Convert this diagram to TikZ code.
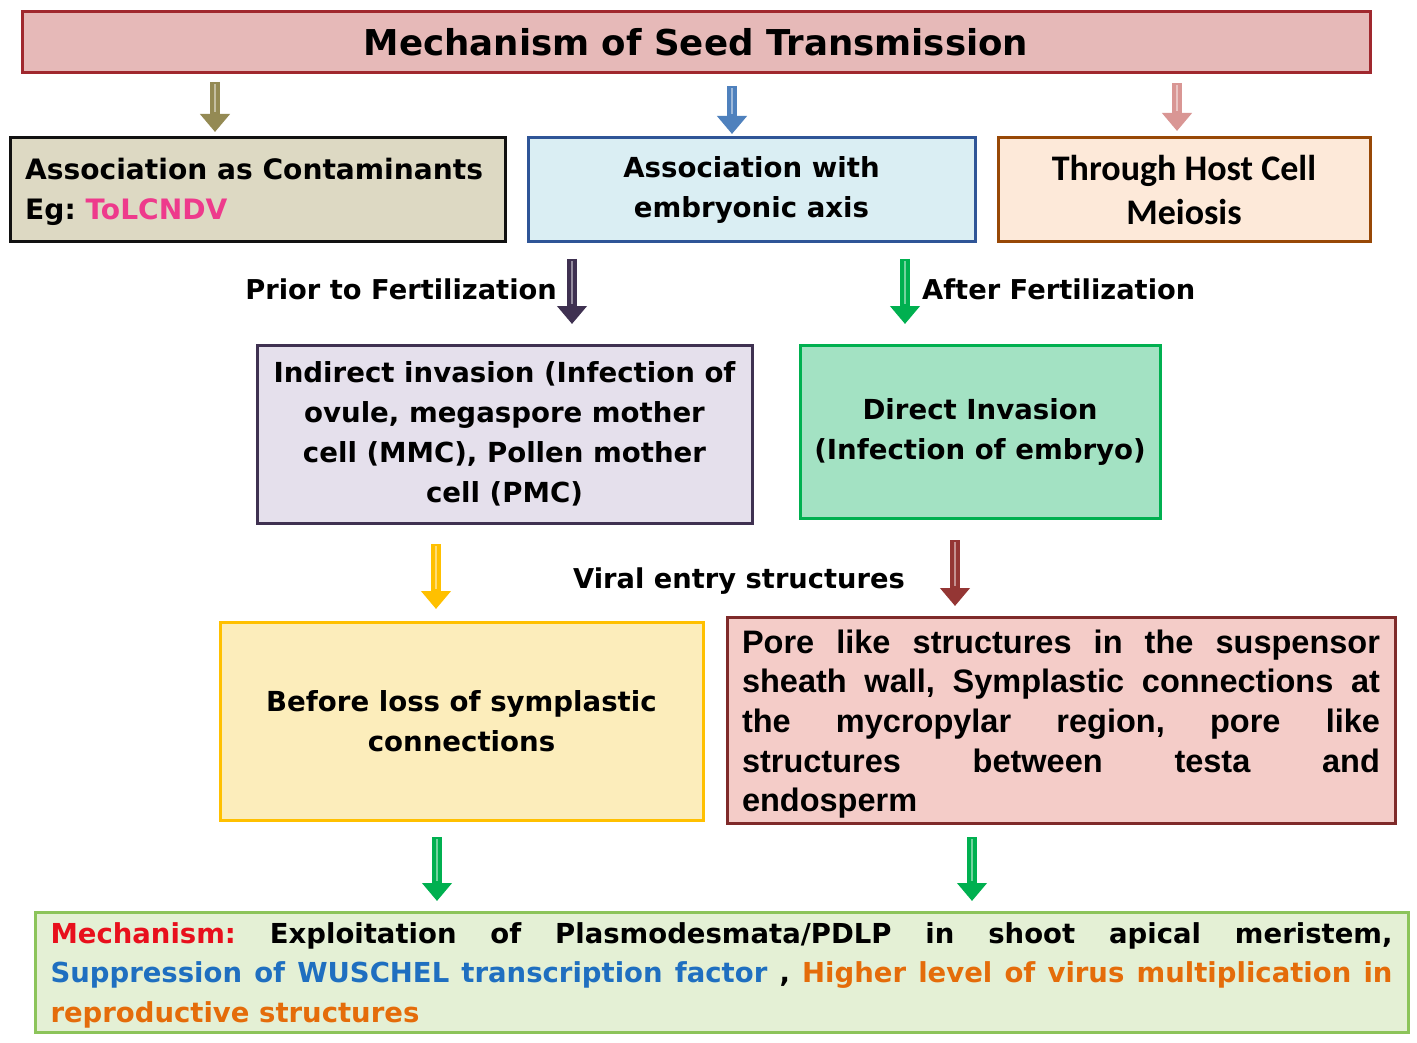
\documentclass[tikz,border=0pt]{standalone}
\usepackage{fontspec}
\setmainfont{DejaVu Sans}
\newfontfamily\calfont{Carlito}
\newfontfamily\arifont{Liberation Sans}
\usetikzlibrary{arrows.meta}
\definecolor{titlefill}{HTML}{E6B9B8}
\definecolor{titledraw}{HTML}{A0282E}
\definecolor{afill}{HTML}{DDD9C3}
\definecolor{adraw}{HTML}{111111}
\definecolor{bfill}{HTML}{DAEEF3}
\definecolor{bdraw}{HTML}{2F5597}
\definecolor{cfill}{HTML}{FDE9D9}
\definecolor{cdraw}{HTML}{984806}
\definecolor{dfill}{HTML}{E5E0EC}
\definecolor{ddraw}{HTML}{3F3151}
\definecolor{efill}{HTML}{A3E2C3}
\definecolor{edraw}{HTML}{00B050}
\definecolor{ffill}{HTML}{FCEDBB}
\definecolor{fdraw}{HTML}{FFC000}
\definecolor{gfill}{HTML}{F4CCC8}
\definecolor{gdraw}{HTML}{7F2A2A}
\definecolor{hfill}{HTML}{E4F0D5}
\definecolor{hdraw}{HTML}{8CC45A}
\definecolor{arrolive}{HTML}{948A54}
\definecolor{arrblue}{HTML}{4F81BD}
\definecolor{arrpink}{HTML}{D99694}
\definecolor{arrpurple}{HTML}{3F3151}
\definecolor{arrgreen}{HTML}{00B050}
\definecolor{arryellow}{HTML}{FFC000}
\definecolor{arrred}{HTML}{943634}
\definecolor{txtmagenta}{HTML}{EE3A8C}
\definecolor{txtred}{HTML}{E8101C}
\definecolor{txtblue}{HTML}{1F6FC0}
\definecolor{txtorange}{HTML}{E46C0A}
\newcommand\myarrow[3]{%
  \draw[blockarrow=#1] (#2) -- (#3);
  \draw[arrowshine] (#2) -- (#3);
}
\frenchspacing
\begin{document}
\begin{tikzpicture}[x=1pt,y=-1pt,
  box/.style={draw, line width=3pt, rectangle, inner sep=0pt, font=\bfseries\fontsize{27.6}{40}\selectfont, align=center},
  lbl/.style={inner sep=0pt, font=\bfseries\fontsize{27.3}{40}\selectfont},
  blockarrow/.style={line width=10pt, draw=#1, -{Triangle[width=29pt,length=18pt]}},
  arrowshine/.style={line width=2.5pt, draw=white, draw opacity=0.45, shorten >=20pt, shorten <=2pt}]
\useasboundingbox (0,0) rectangle (1417,1043);
\fill[white] (0,0) rectangle (1417,1043);

\node[box, fill=titlefill, draw=titledraw, minimum width=1348pt, minimum height=61pt, font=\bfseries\fontsize{35.6}{40}\selectfont] (title) at (696,42.5) {Mechanism of Seed Transmission};

\node[box, fill=afill, draw=adraw, minimum width=495pt, minimum height=104pt] (assoc) at (257.5,190) {};
\node[lbl, anchor=west, align=left, font=\bfseries\fontsize{28.1}{40}\selectfont] (assoctxt) at (25,192) {Association as Contaminants\\Eg: \textcolor{txtmagenta}{ToLCNDV}};
\node[box, fill=bfill, draw=bdraw, minimum width=447pt, minimum height=104pt] (embryo) at (751.5,190) {Association with\\embryonic axis};
\node[box, fill=cfill, draw=cdraw, minimum width=372pt, minimum height=104pt, font=\calfont\bfseries\fontsize{36}{44}\selectfont] (meiosis) at (1184,190) {Through Host Cell\\Meiosis};

\node[lbl, anchor=east] (prior) at (557,289) {Prior to Fertilization};
\node[lbl, anchor=west] (after) at (922,289) {After Fertilization};

\node[box, fill=dfill, draw=ddraw, minimum width=495pt, minimum height=178pt] (indirect) at (504.5,434) {Indirect invasion (Infection of\\ovule, megaspore mother\\cell (MMC), Pollen mother\\cell (PMC)};
\node[box, fill=efill, draw=edraw, minimum width=360pt, minimum height=173pt] (direct) at (980,431.5) {Direct Invasion\\(Infection of embryo)};

\node[lbl] (viral) at (739,581) {Viral entry structures};

\node[box, fill=ffill, draw=fdraw, minimum width=483pt, minimum height=198pt] (before) at (461.5,721) {Before loss of symplastic\\connections};
\node[box, fill=gfill, draw=gdraw, minimum width=668pt, minimum height=206pt] (pore) at (1061,720) {};
\node[inner sep=0pt, align=left, font=\arifont\bfseries\fontsize{32.5}{39.6}\selectfont] (poretxt) at (1061,724) {%
\makebox[638pt][s]{Pore like structures in the suspensor}\\
\makebox[638pt][s]{sheath wall, Symplastic connections at}\\
\makebox[638pt][s]{the mycropylar region, pore like}\\
\makebox[638pt][s]{structures between testa and}\\
\makebox[638pt][l]{endosperm}};

\node[box, fill=hfill, draw=hdraw, minimum width=1373pt, minimum height=120pt] (mech) at (721.5,972) {};
\node[inner sep=0pt, align=left, font=\bfseries\fontsize{27.5}{39.5}\selectfont] (mechtxt) at (721.5,975) {%
\makebox[1342pt][s]{\textcolor{txtred}{Mechanism:} Exploitation of Plasmodesmata/PDLP in shoot apical meristem,}\\
\makebox[1342pt][s]{\textcolor{txtblue}{Suppression of WUSCHEL transcription factor} , \textcolor{txtorange}{Higher level of virus multiplication in}}\\
\makebox[1342pt][l]{\textcolor{txtorange}{reproductive structures}}};

\coordinate (a1s) at (215,82);  \coordinate (a1e) at (215,132);
\coordinate (a2s) at (732,86);  \coordinate (a2e) at (732,134);
\coordinate (a3s) at (1177,83); \coordinate (a3e) at (1177,131);
\coordinate (a4s) at (572,259); \coordinate (a4e) at (572,324);
\coordinate (a5s) at (905,259); \coordinate (a5e) at (905,324);
\coordinate (a6s) at (436,544); \coordinate (a6e) at (436,609);
\coordinate (a7s) at (955,540); \coordinate (a7e) at (955,606);
\coordinate (a8s) at (437,837); \coordinate (a8e) at (437,901);
\coordinate (a9s) at (972,837); \coordinate (a9e) at (972,901);

\myarrow{arrolive}{a1s}{a1e}
\myarrow{arrblue}{a2s}{a2e}
\myarrow{arrpink}{a3s}{a3e}
\myarrow{arrpurple}{a4s}{a4e}
\myarrow{arrgreen}{a5s}{a5e}
\myarrow{arryellow}{a6s}{a6e}
\myarrow{arrred}{a7s}{a7e}
\myarrow{arrgreen}{a8s}{a8e}
\myarrow{arrgreen}{a9s}{a9e}
\end{tikzpicture}
\end{document}
